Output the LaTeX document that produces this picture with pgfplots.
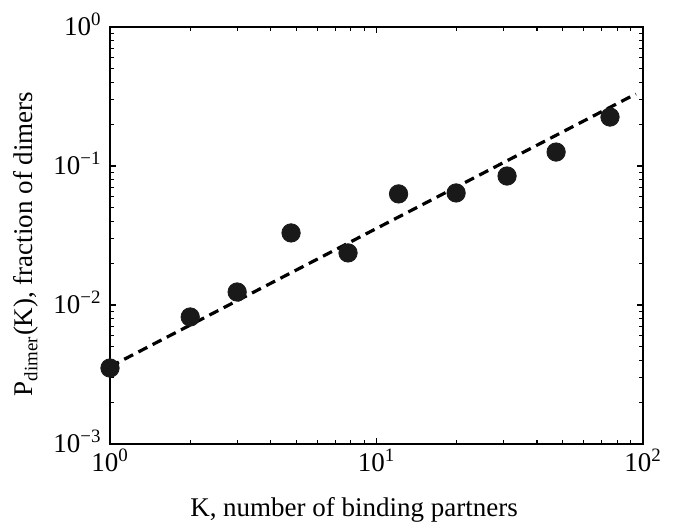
\documentclass[border=0pt]{standalone}
\usepackage{fontspec}
\setmainfont{Liberation Serif}
\usepackage{pgfplots}
\pgfplotsset{compat=1.18}
\begin{document}
\fontsize{13.5}{16}\selectfont
\begin{tikzpicture}
\useasboundingbox (-55pt,-39pt) rectangle (282pt,222pt);
\begin{axis}[
  at={(0pt,0pt)}, anchor=south west,
  scale only axis, width=266.5pt, height=208.5pt,
  xmode=log, ymode=log,
  xmin=1, xmax=100, ymin=1e-3, ymax=1,
  axis line style={line width=0.8pt},
  every tick/.style={black, line width=0.6pt},
  major tick length=2.8pt, minor tick length=1.8pt,
  tick align=inside,
  xtick={1,10,100},
  xticklabels={10\textsuperscript{0},10\textsuperscript{1},10\textsuperscript{2}},
  ytick={1e-3,1e-2,1e-1,1},
  yticklabels={10\textsuperscript{−3},10\textsuperscript{−2},10\textsuperscript{−1},10\textsuperscript{0}},
  xticklabel style={anchor=base, inner sep=0pt, yshift=-14pt, font=\fontsize{13.5}{16}\selectfont},
  yticklabel style={anchor=base east, inner sep=0pt, xshift=-4pt, yshift=-4.5pt, font=\fontsize{13.5}{16}\selectfont},
  clip=false,
]
\addplot[black, line width=1.6pt, dash pattern=on 5pt off 3pt] coordinates {(1,0.0036) (94,0.33)};
\addplot[only marks, mark=*, mark size=4.6pt, mark options={fill=black!90, draw=black!90}] coordinates {
(1,0.00352) (2.0,0.0082) (3.0,0.0124) (4.78,0.033) (7.82,0.0237)
(12.1,0.063) (19.9,0.064) (30.9,0.0847) (47.2,0.126) (75.2,0.225)
};
\node[anchor=base] at (rel axis cs:0.458,0) [yshift=-36.5pt] {K, number of binding partners};
\node[anchor=base, rotate=90] at (rel axis cs:-0.1445,0.48) {P\textsubscript{dimer}(K), fraction of dimers};
\end{axis}
\end{tikzpicture}
\end{document}
